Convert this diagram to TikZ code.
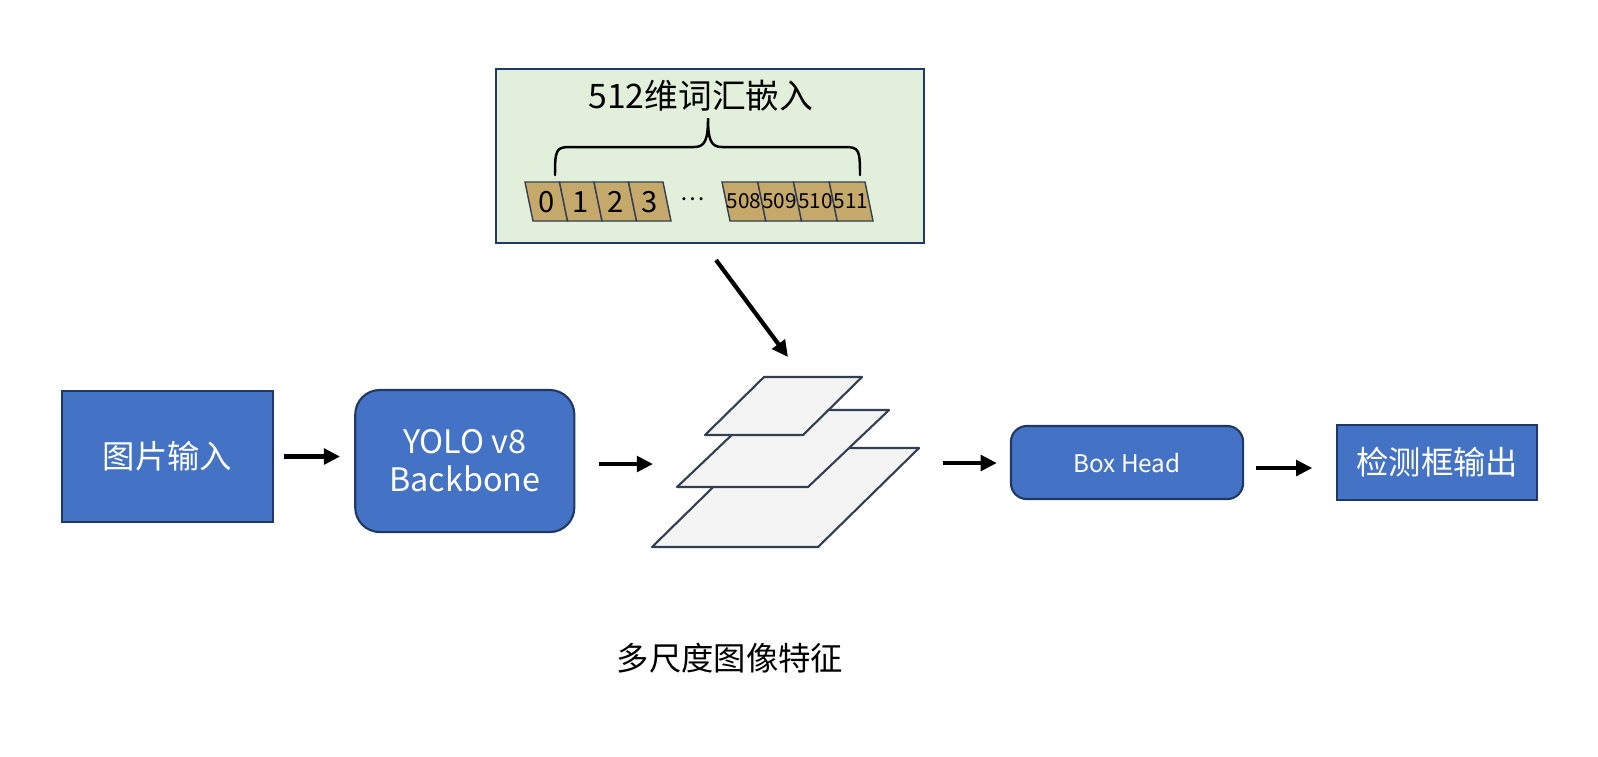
\documentclass[tikz,border=0pt]{standalone}
\usepackage{fontspec}
\setmainfont{Noto Sans CJK SC}
\usetikzlibrary{arrows.meta, positioning}
\usepackage{xcolor}
\definecolor{boxblue}{HTML}{4472C4}
\definecolor{boxedge}{HTML}{203864}
\definecolor{embedbg}{HTML}{E2EFDA}
\definecolor{celltan}{HTML}{C5A96B}
\definecolor{layerbg}{HTML}{F5F4F4}
\definecolor{layeredge}{HTML}{323F52}
\tikzset{
    inputbox/.style={
        rectangle, minimum width=2.11cm, minimum height=1.31cm,
        fill=boxblue, draw=boxedge, line width=0.6pt, text=white,
        font=\fontsize{9.2}{11}\selectfont
    },
    roundbox/.style={
        rectangle, rounded corners=7pt, fill=boxblue, draw=boxedge,
        line width=0.6pt, text=white, align=center
    },
    arrow/.style={
        -{Triangle[length=4.6pt, width=4.4pt]}, line width=1.2pt, draw=black
    },
    layer/.style={
        fill=layerbg, draw=layeredge, line width=0.6pt, line join=round
    },
    cellbox/.style={
        fill=celltan, draw=layeredge, line width=0.4pt
    },
    embedbox/.style={
        rectangle, minimum width=4.28cm, minimum height=1.74cm,
        fill=embedbg, draw=boxedge, line width=0.6pt
    }
}
\begin{document}
\begin{tikzpicture}[x=0.01cm, y=-0.01cm]
    \useasboundingbox[fill=white] (0,0) rectangle (1598,756);

    % main row
    \node[inputbox] (img) at (167.5,456.5) {图片输入};
    \node[roundbox, minimum width=2.19cm, minimum height=1.42cm,
          font=\fontsize{9.2}{10.8}\selectfont, right=0.8cm of img, yshift=-0.045cm] (yolo)
          {YOLO v8\\Backbone};
    \node[roundbox, rounded corners=4.5pt, minimum width=2.32cm, minimum height=0.73cm,
          font=\fontsize{6.9}{8}\selectfont] (head) at (1127,462.5) {Box Head};
    \node[inputbox, minimum width=2.0cm, minimum height=0.75cm, right=0.92cm of head] (out)
          {检测框输出};

    % multi-scale feature maps
    \draw[layer] (652,547) -- (818,547) -- (919,448) -- (753,448) -- cycle;
    \draw[layer] (677,487) -- (808,487) -- (889,410) -- (758,410) -- cycle;
    \draw[layer] (705,435) -- (803,435) -- (862,377) -- (764,377) -- cycle;
    \node[font=\fontsize{9.2}{11}\selectfont] (featlbl) at (730,658) {多尺度图像特征};

    \coordinate (featin)  at (653,464);
    \coordinate (featout) at (943,463);
    \coordinate (feattop) at (788,357);
    \coordinate (embout)  at (716,260);

    % vocabulary embedding
    \node[embedbox] (vocab) at (710,156) {};
    \node[font=\fontsize{9.6}{12}\selectfont] (vocabtitle) at (701,96) {512维词汇嵌入};
    \draw[line width=0.7pt, line cap=round]
        (555,175) .. controls (555,150) and (556,147) .. (570,147) -- (694,147)
        .. controls (705,147) and (708,140) .. (708,118)
        .. controls (708,140) and (711,147) .. (722,147) -- (845,147)
        .. controls (859,147) and (860,150) .. (860,175);
    \foreach \i in {0,...,3} {
        \draw[cellbox] ({525+\i*34.5},182) -- ++(34.5,0) -- ++(8,39) -- ++(-34.5,0) -- cycle;
        \node[font=\fontsize{8.3}{9}\selectfont, inner sep=0pt] (cell\i) at ({546.25+\i*34.5},202) {\i};
    }
    \node[font=\fontsize{6.5}{7}\selectfont, inner sep=0pt] (dots) at (693,199) {…};
    \foreach \i/\lab in {0/508,1/509,2/510,3/511} {
        \draw[cellbox] ({722+\i*35.75},182) -- ++(35.75,0) -- ++(8,39) -- ++(-35.75,0) -- cycle;
        \node[font=\fontsize{5.9}{6}\selectfont, inner sep=0pt] (vec\lab) at ({743.9+\i*35.75},201) {\lab};
    }

    % connectors
    \draw[arrow, shorten <=2.85pt, shorten >=4pt] (img) -- (yolo.west |- img);
    \draw[arrow, shorten <=6.8pt] (yolo.east |- featin) -- (featin);
    \draw[arrow, shorten >=3.7pt] (featout) -- (featout -| head.west);
    \draw[arrow, shorten <=3.4pt, shorten >=6.8pt] (head.east |- 0,468) -- (out.west |- 0,468);
    \draw[arrow] (embout) -- (feattop);
\end{tikzpicture}
\end{document}
